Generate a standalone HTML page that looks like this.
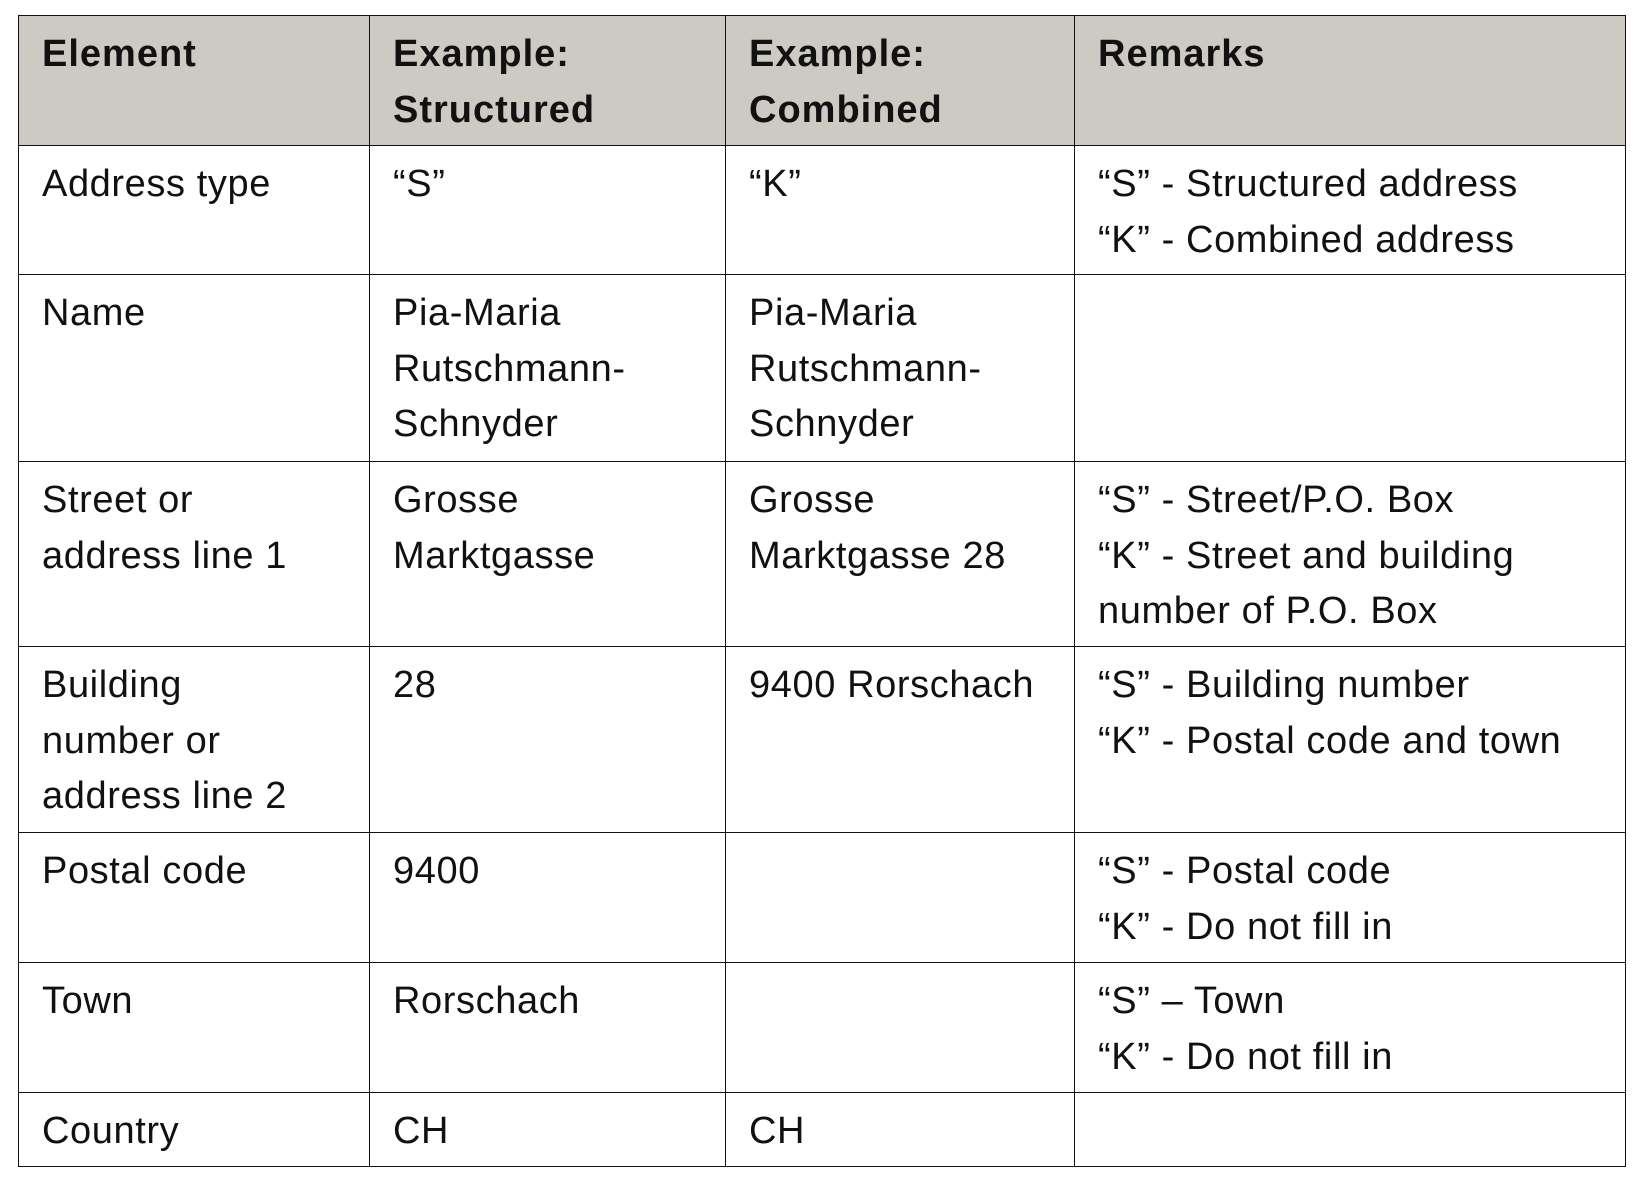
<!DOCTYPE html>
<html><head><meta charset="utf-8"><style>
body{margin:0;width:1642px;height:1182px;background:#fff;position:relative;overflow:hidden;font-family:"Liberation Sans",Arial,sans-serif;}
.c{position:absolute;box-sizing:border-box;border:1.5px solid #111;padding:11px 0 0 23px;font-size:38px;line-height:55.5px;color:#111;letter-spacing:0.6px;}
.h{background:#cdc9c3;font-weight:bold;letter-spacing:1px;}
</style></head><body>
<div class="c h" style="left:18px;top:15px;width:352px;height:131px">Element</div>
<div class="c h" style="left:369px;top:15px;width:357px;height:131px">Example:<br>Structured</div>
<div class="c h" style="left:725px;top:15px;width:350px;height:131px">Example:<br>Combined</div>
<div class="c h" style="left:1074px;top:15px;width:552px;height:131px">Remarks</div>

<div class="c" style="left:18px;top:145px;width:352px;height:130px">Address type</div>
<div class="c" style="left:369px;top:145px;width:357px;height:130px">“S”</div>
<div class="c" style="left:725px;top:145px;width:350px;height:130px">“K”</div>
<div class="c" style="left:1074px;top:145px;width:552px;height:130px">“S” - Structured address<br>“K” - Combined address</div>

<div class="c" style="left:18px;top:274px;width:352px;height:188px">Name</div>
<div class="c" style="left:369px;top:274px;width:357px;height:188px">Pia-Maria<br>Rutschmann-<br>Schnyder</div>
<div class="c" style="left:725px;top:274px;width:350px;height:188px">Pia-Maria<br>Rutschmann-<br>Schnyder</div>
<div class="c" style="left:1074px;top:274px;width:552px;height:188px"></div>

<div class="c" style="left:18px;top:461px;width:352px;height:186px">Street or<br>address line 1</div>
<div class="c" style="left:369px;top:461px;width:357px;height:186px">Grosse<br>Marktgasse</div>
<div class="c" style="left:725px;top:461px;width:350px;height:186px">Grosse<br>Marktgasse 28</div>
<div class="c" style="left:1074px;top:461px;width:552px;height:186px">“S” - Street/P.O. Box<br>“K” - Street and building<br>number of P.O. Box</div>

<div class="c" style="left:18px;top:646px;width:352px;height:187px">Building<br>number or<br>address line 2</div>
<div class="c" style="left:369px;top:646px;width:357px;height:187px">28</div>
<div class="c" style="left:725px;top:646px;width:350px;height:187px">9400 Rorschach</div>
<div class="c" style="left:1074px;top:646px;width:552px;height:187px">“S” - Building number<br>“K” - Postal code and town</div>

<div class="c" style="left:18px;top:832px;width:352px;height:131px">Postal code</div>
<div class="c" style="left:369px;top:832px;width:357px;height:131px">9400</div>
<div class="c" style="left:725px;top:832px;width:350px;height:131px"></div>
<div class="c" style="left:1074px;top:832px;width:552px;height:131px">“S” - Postal code<br>“K” - Do not fill in</div>

<div class="c" style="left:18px;top:962px;width:352px;height:131px">Town</div>
<div class="c" style="left:369px;top:962px;width:357px;height:131px">Rorschach</div>
<div class="c" style="left:725px;top:962px;width:350px;height:131px"></div>
<div class="c" style="left:1074px;top:962px;width:552px;height:131px">“S” – Town<br>“K” - Do not fill in</div>

<div class="c" style="left:18px;top:1092px;width:352px;height:75px">Country</div>
<div class="c" style="left:369px;top:1092px;width:357px;height:75px">CH</div>
<div class="c" style="left:725px;top:1092px;width:350px;height:75px">CH</div>
<div class="c" style="left:1074px;top:1092px;width:552px;height:75px"></div>
</body></html>
